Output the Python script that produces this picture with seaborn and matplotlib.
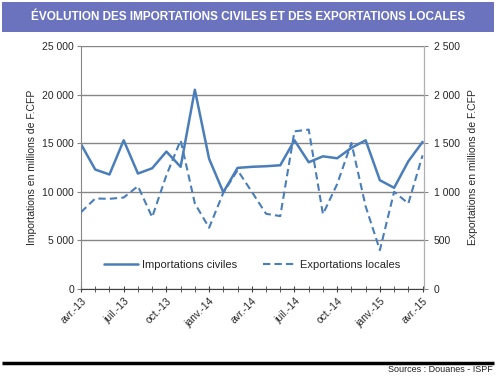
import numpy as np
import pandas as pd
import seaborn as sns
import matplotlib.pyplot as plt
from matplotlib.lines import Line2D
from matplotlib.patches import Rectangle
from matplotlib.ticker import FuncFormatter, MultipleLocator

sns.set_style('white')
plt.rcParams['font.family'] = ['Liberation Sans', 'DejaVu Sans']

# données (millions de F.CFP), avr.-13 -> avr.-15
importations = [14900, 12290, 11780, 15300, 11880, 12420, 14140, 12570, 20500,
                13400, 9950, 12460, 12570, 12630, 12730, 15300, 13040, 13650,
                13450, 14520, 15300, 11190, 10410, 13140, 15130]
exportations = [790, 931, 928, 941, 1058, 739, 1170, 1530, 880,
                630, 990, 1222, 1000, 774, 750, 1622, 1640, 770,
                1080, 1503, 850, 400, 1000, 880, 1375]
etiquettes = ['avr.-13', 'juil.-13', 'oct.-13', 'janv.-14', 'avr.-14',
              'juil.-14', 'oct.-14', 'janv.-15', 'avr.-15']

df = pd.DataFrame({'mois': np.arange(len(importations)),
                   'imp': importations, 'exp': exportations})

bleu = '#4A7EBB'
gris = '#868686'

fig = plt.figure(figsize=(4.96, 3.77), dpi=100)
ax = fig.add_axes([81/496, 1-289/377, 343/496, 243/377])

sns.lineplot(data=df, x='mois', y='imp', ax=ax, color=bleu, lw=1.8, legend=False)
ax2 = ax.twinx()
sns.lineplot(data=df, x='mois', y='exp', ax=ax2, color=bleu, lw=1.5,
             dashes=False, legend=False)
ax2.lines[0].set_dashes((3.5, 2))

fmt = FuncFormatter(lambda v, p: f'{v:,.0f}'.replace(',', ' '))
ax.set_xlim(0, 24.1)
ax.set_ylim(0, 25000)
ax2.set_ylim(0, 2500)
ax.yaxis.set_major_locator(MultipleLocator(5000))
ax2.yaxis.set_major_locator(MultipleLocator(500))
ax.yaxis.set_major_formatter(fmt)
ax2.yaxis.set_major_formatter(fmt)

ax.set_xticks(np.arange(0, 25, 3))
ax.set_xticks(np.arange(0, 25), minor=True)
ax.set_xticklabels(etiquettes, rotation=45, ha='right', rotation_mode='anchor')

ax.grid(axis='y', color=gris, lw=1)
ax.set_xlabel('')
ax.set_ylabel('Importations en millions de F.CFP', fontsize=7.5, labelpad=4)
ax2.set_ylabel('Exportations en millions de F.CFP', fontsize=7.5, labelpad=6)

ax.tick_params(axis='y', which='major', labelsize=7.5, length=3, color=gris, direction='out', pad=2)
ax2.tick_params(axis='y', which='major', labelsize=7.5, length=3, color=gris, direction='out', pad=4)
ax.tick_params(axis='x', which='both', labelsize=7.5, length=4, color='#404040',
               direction='inout', bottom=True, pad=3)

ax.spines['top'].set_visible(False)
ax.spines['left'].set_color(gris)
ax.spines['right'].set_color(gris)
ax.spines['bottom'].set_color('#404040')
for s in ['top', 'left', 'bottom']:
    ax2.spines[s].set_visible(False)
ax2.spines['right'].set_color('#b0b0b0')

poignees = [Line2D([], [], color=bleu, lw=1.8),
            Line2D([], [], color=bleu, lw=1.5, dashes=(3.5, 2))]
ax2.legend(poignees, ['Importations civiles', 'Exportations locales'], ncol=2,
           loc='center', bbox_to_anchor=(0.5, 0.1), frameon=False, fontsize=8,
           handlelength=3.0, columnspacing=2.3, handletextpad=0.4)

# bandeau du titre
fig.add_artist(Rectangle((2/496, 1-31.5/377), 492/496, 29.5/377,
                         transform=fig.transFigure, color='#6B73BF', lw=0))
fig.text(0.5, 1-17/377, 'ÉVOLUTION DES IMPORTATIONS CIVILES ET DES EXPORTATIONS LOCALES',
         ha='center', va='center', color='white', fontsize=8.5, fontweight='bold')

fig.add_artist(Line2D([2/496, 494/496], [1-363/377, 1-363/377],
                      transform=fig.transFigure, color='black', lw=2.5,
                      solid_capstyle='butt'))
fig.text(493/496, 1-370/377, 'Sources : Douanes - ISPF', ha='right', va='center',
         fontsize=6.5, color='#222222')

plt.savefig('out.png', dpi=100)
